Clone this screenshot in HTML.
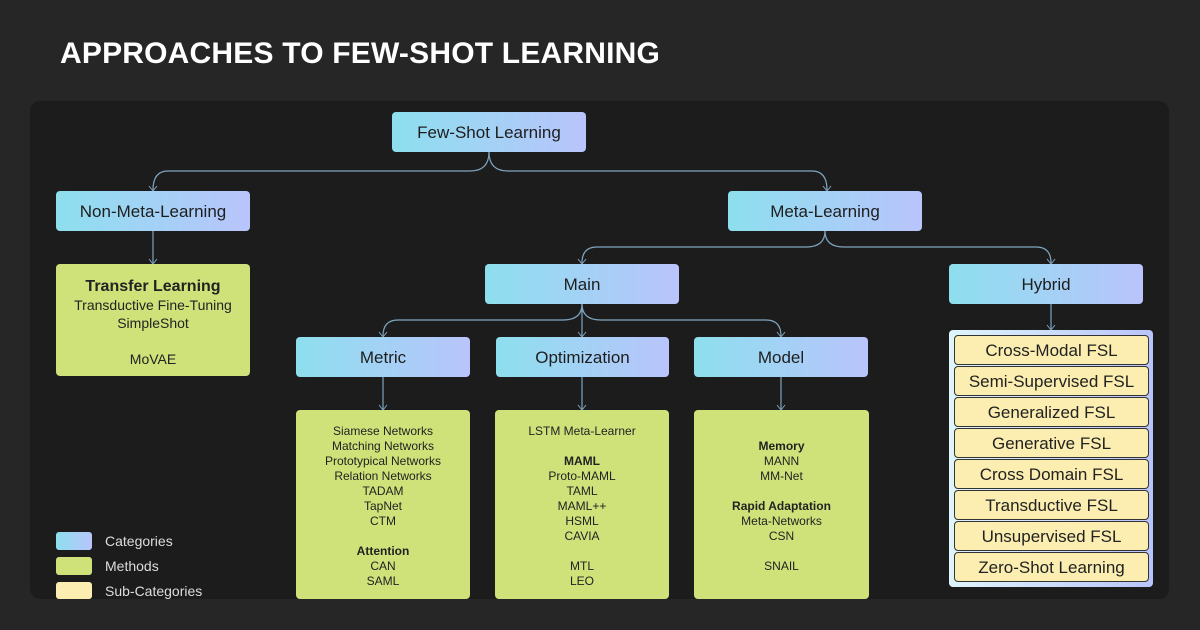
<!DOCTYPE html>
<html><head><meta charset="utf-8"><style>
*{margin:0;padding:0;box-sizing:border-box}
body{width:1200px;height:630px;background:#262626;position:relative;overflow:hidden;font-family:"Liberation Sans",sans-serif}
.title{position:absolute;left:60px;top:37px;color:#fff;font-weight:bold;font-size:30px;letter-spacing:0.2px}
.panel{position:absolute;left:30px;top:101px;width:1139px;height:498px;background:#1c1c1c;border-radius:10px}
.c{position:absolute;height:40px;border-radius:4px;background:linear-gradient(90deg,#8ddfee,#b9c4fc);color:#1e1e1e;font-size:17px;display:flex;align-items:center;justify-content:center;padding-top:2px}
.m{position:absolute;background:#cfe27a;border-radius:4px;color:#222;font-size:12px;line-height:15px;text-align:center}
.hy{position:absolute;left:949px;top:330px;width:204px;height:257px;border-radius:4px;background:linear-gradient(90deg,#dff6fb,#b9c4fc)}
.it{position:absolute;left:5px;width:195px;height:30px;background:#fbeeb0;border:1px solid #333;border-radius:4px;color:#222;font-size:17px;display:flex;align-items:center;justify-content:center;padding-top:2px}
.lg{position:absolute;left:56px;width:36px;height:18px;border-radius:3px}
.lt{position:absolute;left:105px;color:#ddd;font-size:14px}
svg{position:absolute;left:0;top:0}
</style></head><body>
<div class="title">APPROACHES TO FEW-SHOT LEARNING</div>
<div class="panel"></div>
<svg width="1200" height="630" fill="none" stroke="#7fa6c0" stroke-width="1.2">
<path d="M489 152 Q489 171 470 171 H168 Q153 171 153 190"/>
<path d="M489 152 Q489 171 508 171 H812 Q827 171 827 190"/>
<path d="M153 231 V263"/>
<path d="M825 231 Q825 247 806 247 H597 Q582 247 582 263"/>
<path d="M825 231 Q825 247 844 247 H1036 Q1051 247 1051 263"/>
<path d="M1051 304 V329"/>
<path d="M582 304 Q582 320 563 320 H398 Q383 320 383 336"/>
<path d="M582 304 V336"/>
<path d="M582 304 Q582 320 601 320 H766 Q781 320 781 336"/>
<path d="M383 377 V409"/><path d="M582 377 V409"/><path d="M781 377 V409"/>
<g stroke-width="1">
<path d="M149 186 L153 191 L157 186"/><path d="M823 186 L827 191 L831 186"/>
<path d="M149 259 L153 264 L157 259"/><path d="M578 259 L582 264 L586 259"/><path d="M1047 259 L1051 264 L1055 259"/>
<path d="M1047 325 L1051 330 L1055 325"/>
<path d="M379 332 L383 337 L387 332"/><path d="M578 332 L582 337 L586 332"/><path d="M777 332 L781 337 L785 332"/>
<path d="M379 405 L383 410 L387 405"/><path d="M578 405 L582 410 L586 405"/><path d="M777 405 L781 410 L785 405"/>
</g>
</svg>
<div class="c" style="left:392px;top:112px;width:194px">Few-Shot Learning</div>
<div class="c" style="left:56px;top:191px;width:194px">Non-Meta-Learning</div>
<div class="c" style="left:728px;top:191px;width:194px">Meta-Learning</div>
<div class="c" style="left:485px;top:264px;width:194px">Main</div>
<div class="c" style="left:949px;top:264px;width:194px">Hybrid</div>
<div class="c" style="left:296px;top:337px;width:174px">Metric</div>
<div class="c" style="left:496px;top:337px;width:173px">Optimization</div>
<div class="c" style="left:694px;top:337px;width:174px">Model</div>
<div class="m" style="left:56px;top:264px;width:194px;height:112px;font-size:14px;line-height:18px;padding-top:13px"><b style="font-size:16px">Transfer Learning</b><br>Transductive Fine-Tuning<br>SimpleShot<br>&nbsp;<br>MoVAE</div>
<div class="m" style="left:296px;top:410px;width:174px;height:189px;padding-top:14px">Siamese Networks<br>Matching Networks<br>Prototypical Networks<br>Relation Networks<br>TADAM<br>TapNet<br>CTM<br>&nbsp;<br><b>Attention</b><br>CAN<br>SAML</div>
<div class="m" style="left:495px;top:410px;width:174px;height:189px;padding-top:14px">LSTM Meta-Learner<br>&nbsp;<br><b>MAML</b><br>Proto-MAML<br>TAML<br>MAML++<br>HSML<br>CAVIA<br>&nbsp;<br>MTL<br>LEO</div>
<div class="m" style="left:694px;top:410px;width:175px;height:189px;padding-top:29px"><b>Memory</b><br>MANN<br>MM-Net<br>&nbsp;<br><b>Rapid Adaptation</b><br>Meta-Networks<br>CSN<br>&nbsp;<br>SNAIL</div>
<div class="hy">
<div class="it" style="top:5px">Cross-Modal FSL</div>
<div class="it" style="top:36px">Semi-Supervised FSL</div>
<div class="it" style="top:67px">Generalized FSL</div>
<div class="it" style="top:98px">Generative FSL</div>
<div class="it" style="top:129px">Cross Domain FSL</div>
<div class="it" style="top:160px">Transductive FSL</div>
<div class="it" style="top:191px">Unsupervised FSL</div>
<div class="it" style="top:222px">Zero-Shot Learning</div>
</div>
<div class="lg" style="top:532px;background:linear-gradient(90deg,#8ddfee,#b9c4fc)"></div>
<div class="lg" style="top:557px;background:#cfe27a"></div>
<div class="lg" style="top:582px;height:17px;background:#fbeeb0"></div>
<div class="lt" style="top:533px">Categories</div>
<div class="lt" style="top:558px">Methods</div>
<div class="lt" style="top:583px">Sub-Categories</div>
</body></html>
